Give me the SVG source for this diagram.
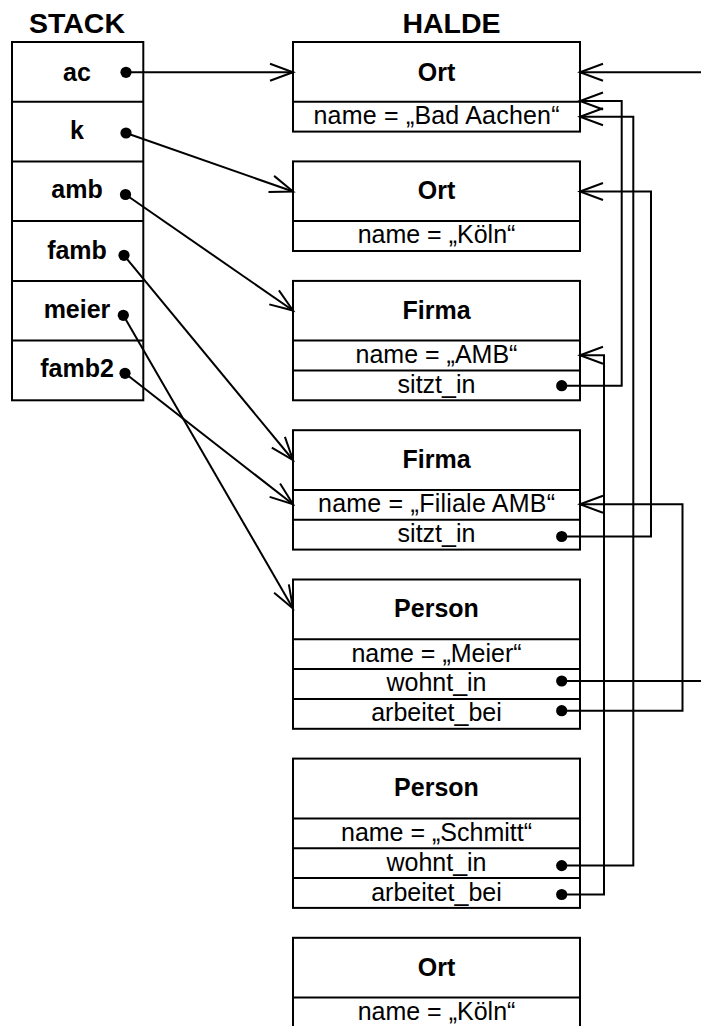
<svg xmlns="http://www.w3.org/2000/svg" width="701" height="1026" viewBox="0 0 701 1026">
  <style>
    .frame { fill: #fff; stroke: #000; stroke-width: 2; }
    .rule { stroke: #000; stroke-width: 2; }
    .head { font-family: "Liberation Sans", Arial, sans-serif; font-weight: bold; font-size: 28.5px; text-anchor: middle; fill: #000; }
    .title { font-family: "Liberation Sans", Arial, sans-serif; font-weight: bold; font-size: 25px; text-anchor: middle; fill: #000; }
    .attr { font-family: "Liberation Sans", Arial, sans-serif; font-size: 25px; text-anchor: middle; fill: #000; }
    .ref { fill: none; stroke: #000; stroke-width: 2; }
  </style>
  <defs>
    <marker id="arrow" markerUnits="userSpaceOnUse" markerWidth="30" markerHeight="24" viewBox="-25 -12 30 24" refX="0" refY="0" orient="auto" overflow="visible">
      <path d="M-23,-8.5 L0,0 L-23,8.5" fill="none" stroke="#000" stroke-width="2"/>
    </marker>
    <marker id="dot" markerUnits="userSpaceOnUse" markerWidth="14" markerHeight="14" viewBox="-7 -7 14 14" refX="0" refY="0" overflow="visible">
      <circle r="5.6" fill="#000"/>
    </marker>
  </defs>

  <rect width="701" height="1026" fill="#fff"/>

  <text class="head" x="77" y="33">STACK</text>
  <text class="head" x="451.5" y="33">HALDE</text>

  <!-- stack frame with one slot per variable -->
  <g id="stack">
    <rect class="frame" x="12" y="42" width="131.3" height="358.3"/>
    <line class="rule" x1="12" y1="101.7" x2="143.3" y2="101.7"/>
    <line class="rule" x1="12" y1="161.4" x2="143.3" y2="161.4"/>
    <line class="rule" x1="12" y1="221.1" x2="143.3" y2="221.1"/>
    <line class="rule" x1="12" y1="280.9" x2="143.3" y2="280.9"/>
    <line class="rule" x1="12" y1="340.6" x2="143.3" y2="340.6"/>
    <text class="title" x="77" y="80.5">ac</text>
    <text class="title" x="77" y="138.5">k</text>
    <text class="title" x="77" y="198">amb</text>
    <text class="title" x="77" y="259">famb</text>
    <text class="title" x="77" y="317.7">meier</text>
    <text class="title" x="77" y="376.7">famb2</text>
  </g>

  <!-- heap objects -->
  <g id="ort-aachen">
    <rect class="frame" x="293" y="42" width="287" height="89.6"/>
    <line class="rule" x1="293" y1="101.7" x2="580" y2="101.7"/>
    <text class="title" x="436.5" y="80.5">Ort</text>
    <text class="attr" x="436.5" y="123.5" textLength="246" lengthAdjust="spacing">name = „Bad Aachen“</text>
  </g>

  <g id="ort-koeln">
    <rect class="frame" x="293" y="161.4" width="287" height="89.6"/>
    <line class="rule" x1="293" y1="221.1" x2="580" y2="221.1"/>
    <text class="title" x="436.5" y="199">Ort</text>
    <text class="attr" x="436.5" y="243.3">name = „Köln“</text>
  </g>

  <g id="firma-amb">
    <rect class="frame" x="293" y="280.9" width="287" height="119.4"/>
    <line class="rule" x1="293" y1="340.6" x2="580" y2="340.6"/>
    <line class="rule" x1="293" y1="370.5" x2="580" y2="370.5"/>
    <text class="title" x="436.5" y="318.5">Firma</text>
    <text class="attr" x="436.5" y="363">name = „AMB“</text>
    <text class="attr" x="436.5" y="393">sitzt_in</text>
  </g>

  <g id="firma-filiale">
    <rect class="frame" x="293" y="430.2" width="287" height="119.4"/>
    <line class="rule" x1="293" y1="489.9" x2="580" y2="489.9"/>
    <line class="rule" x1="293" y1="519.8" x2="580" y2="519.8"/>
    <text class="title" x="436.5" y="468">Firma</text>
    <text class="attr" x="436.5" y="512.3" textLength="237" lengthAdjust="spacing">name = „Filiale AMB“</text>
    <text class="attr" x="436.5" y="542.2">sitzt_in</text>
  </g>

  <g id="person-meier">
    <rect class="frame" x="293" y="579.5" width="287" height="149.3"/>
    <line class="rule" x1="293" y1="639.2" x2="580" y2="639.2"/>
    <line class="rule" x1="293" y1="669.1" x2="580" y2="669.1"/>
    <line class="rule" x1="293" y1="698.9" x2="580" y2="698.9"/>
    <text class="title" x="436.5" y="617">Person</text>
    <text class="attr" x="436.5" y="661.6">name = „Meier“</text>
    <text class="attr" x="436.5" y="691.4">wohnt_in</text>
    <text class="attr" x="436.5" y="721.3">arbeitet_bei</text>
  </g>

  <g id="person-schmitt">
    <rect class="frame" x="293" y="758.6" width="287" height="149.3"/>
    <line class="rule" x1="293" y1="818.4" x2="580" y2="818.4"/>
    <line class="rule" x1="293" y1="848.2" x2="580" y2="848.2"/>
    <line class="rule" x1="293" y1="878.1" x2="580" y2="878.1"/>
    <text class="title" x="436.5" y="796.2">Person</text>
    <text class="attr" x="436.5" y="840.8">name = „Schmitt“</text>
    <text class="attr" x="436.5" y="870.6">wohnt_in</text>
    <text class="attr" x="436.5" y="900.5">arbeitet_bei</text>
  </g>

  <g id="ort-koeln-2">
    <rect class="frame" x="293" y="937.8" width="287" height="89.6"/>
    <line class="rule" x1="293" y1="997.5" x2="580" y2="997.5"/>
    <text class="title" x="436.5" y="975.5">Ort</text>
    <text class="attr" x="436.5" y="1019.5">name = „Köln“</text>
  </g>

  <!-- references: stack variables into the heap, fields between heap objects -->
  <g id="connectors">
    <line class="ref" x1="126" y1="72.3" x2="293" y2="72.3" marker-start="url(#dot)" marker-end="url(#arrow)"/>
    <line class="ref" x1="126" y1="133" x2="293" y2="191.5" marker-start="url(#dot)" marker-end="url(#arrow)"/>
    <line class="ref" x1="125.5" y1="194.5" x2="293" y2="310.5" marker-start="url(#dot)" marker-end="url(#arrow)"/>
    <line class="ref" x1="124" y1="255.3" x2="293" y2="460" marker-start="url(#dot)" marker-end="url(#arrow)"/>
    <line class="ref" x1="123.3" y1="315.3" x2="293" y2="608.5" marker-start="url(#dot)" marker-end="url(#arrow)"/>
    <line class="ref" x1="125" y1="373.3" x2="293" y2="504.3" marker-start="url(#dot)" marker-end="url(#arrow)"/>

    <line class="ref" x1="701" y1="72.3" x2="580" y2="72.3" marker-end="url(#arrow)"/>
    <line class="ref" x1="561.7" y1="681" x2="701" y2="681" marker-start="url(#dot)"/>

    <polyline class="ref" points="561.7,385.7 621.7,385.7 621.7,101 580,101" marker-start="url(#dot)" marker-end="url(#arrow)"/>
    <polyline class="ref" points="561.7,865.6 633.3,865.6 633.3,116.7 580,116.7" marker-start="url(#dot)" marker-end="url(#arrow)"/>
    <polyline class="ref" points="561.7,536.5 651,536.5 651,191.5 580,191.5" marker-start="url(#dot)" marker-end="url(#arrow)"/>
    <polyline class="ref" points="561.7,894.5 604,894.5 604,355.3 580,355.3" marker-start="url(#dot)" marker-end="url(#arrow)"/>
    <polyline class="ref" points="561.7,710.7 682.5,710.7 682.5,504.3 580,504.3" marker-start="url(#dot)" marker-end="url(#arrow)"/>
  </g>
</svg>
